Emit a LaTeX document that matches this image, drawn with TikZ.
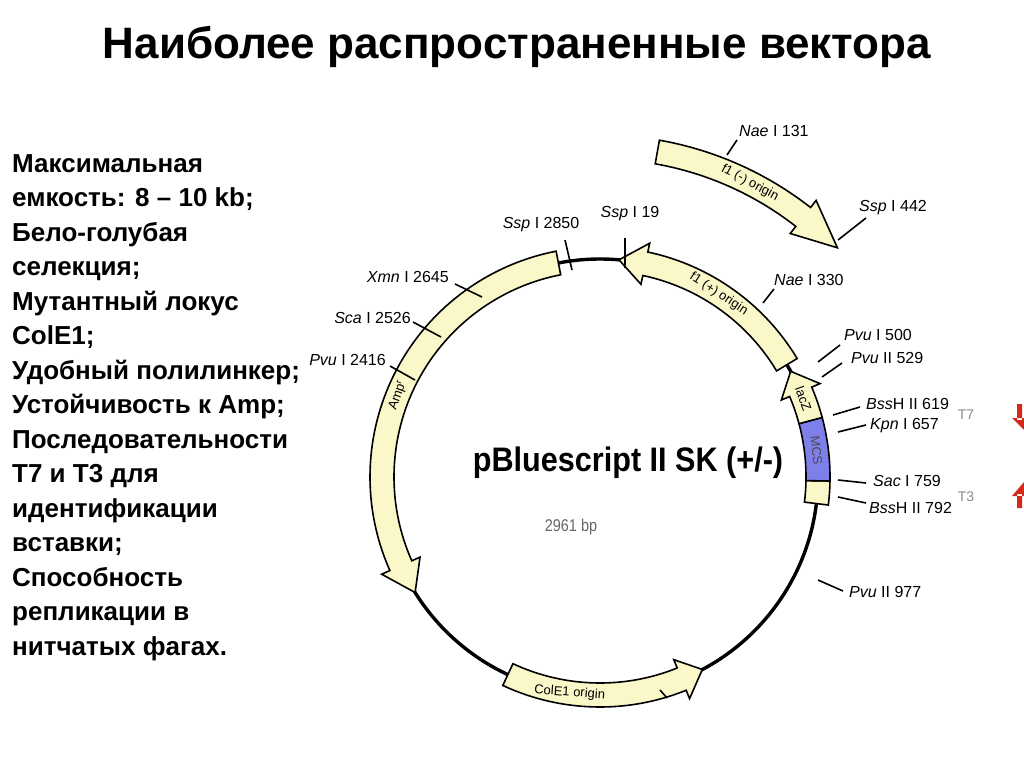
\documentclass[tikz,border=0pt]{standalone}
\usepackage{fontspec}
\setmainfont{Liberation Sans}
\usetikzlibrary{calc}
\definecolor{featfill}{HTML}{FAF8C8}
\definecolor{mcsblue}{HTML}{7F7FEA}
\definecolor{tred}{HTML}{D42A1A}
\newcommand\featarrow[5]{% start, tip, radius, head offset, name
\filldraw[feat] ($(C)+({#1}:{#3+12})$) arc[start angle={#1},end angle={#2-#4},radius={#3+12}]
 -- ($(C)+({#2-#4}:{#3+21})$) -- ($(C)+({#2}:{#3})$) -- ($(C)+({#2-#4}:{#3-21})$)
 -- ($(C)+({#2-#4}:{#3-12})$) arc[start angle={#2-#4},end angle={#1},radius={#3-12}] -- cycle;}
\newcommand\featbox[4]{%
\filldraw[feat,#4] ($(C)+({#1}:{#3+12})$) arc[start angle={#1},end angle={#2},radius={#3+12}]
 -- ($(C)+({#2}:{#3-12})$) arc[start angle={#2},end angle={#1},radius={#3-12}] -- cycle;}
\begin{document}
\begin{tikzpicture}[x=1pt,y=1pt,
  feat/.style={fill=featfill,draw=black,line width=1.6pt,line join=miter},
  site/.style={font=\fontsize{16}{17}\selectfont,inner sep=1pt},
  tick/.style={line width=1.6pt},
  lbl/.style={font=\fontsize{13}{14}\selectfont,inner sep=0pt},
  side/.style={font=\bfseries\fontsize{26}{34.5}\selectfont,align=left,anchor=north west,inner sep=0pt}]
\useasboundingbox (0,0) rectangle (1024,-767);
\fill[white] (0,0) rectangle (1024,-767);
\node[font=\bfseries\fontsize{44}{48}\selectfont] (title) at (517,-47) {Наиболее распространенные вектора};
\node[side] (txt) at (12,-154) {Максимальная\\емкость: 8 – 10 kb;\\Бело-голубая\\селекция;\\Мутантный локус\\ColE1;\\Удобный полилинкер;\\Устойчивость к Amp;\\Последовательности\\T7 и T3 для\\идентификации\\вставки;\\Способность\\репликации в\\нитчатых фагах.};
\coordinate (C) at (600,-477);
\draw[line width=3.4pt] (C) circle[radius=218];
% features
\featarrow{101}{212}{218}{8}{amp}
\featarrow{31}{85}{218}{7}{f1p}
\featbox{-7}{-1}{218}{}
\featbox{-1}{15}{218}{fill=mcsblue}
\featarrow{15}{29}{218}{6}{lacz}
\featarrow{245}{298}{218}{6}{cole}
\featarrow{80}{44}{330}{-8}{f1m}
% feature labels
\node[lbl,rotate=-33] (lf1p) at ($(C)+(57:218)$) {f1 (+) origin};
\node[lbl,rotate=-28] (lf1m) at ($(C)+(63:330)$) {f1 (-) origin};
\node[lbl,rotate=70] (lamp) at ($(C)+(158:218)$) {Amp\textsuperscript{r}};
\node[lbl,rotate=-70] (llac) at ($(C)+(21:218)$) {lacZ};
\node[lbl,rotate=-84,text=black!70] (lmcs) at ($(C)+(7:218)$) {MCS};
\node[lbl,rotate=-4] (lcol) at ($(C)+(262:218)$) {ColE1 origin};
% centre
\node[font=\bfseries\fontsize{34}{38}\selectfont,xscale=0.9] (name) at (628,-463) {pBluescript II SK (+/-)};
\node[font=\fontsize{17}{19}\selectfont,text=black!60,xscale=0.85] (bp) at (571,-527) {2961 bp};
% sites
\node[site,anchor=west] (s131) at (738,-131) {\textit{Nae} I 131};
\node[site,anchor=west] (s442) at (858,-208) {\textit{Ssp} I 442};
\node[site] (s2850) at (541,-225) {\textit{Ssp} I 2850};
\node[site] (s19) at (630,-214) {\textit{Ssp} I 19};
\node[site,anchor=east] (s2645) at (450,-277) {\textit{Xmn} I 2645};
\node[site,anchor=east] (s2526) at (412,-318) {\textit{Sca} I 2526};
\node[site,anchor=east] (s2416) at (387,-360) {\textit{Pvu} I 2416};
\node[site,anchor=west] (s330) at (773,-280) {\textit{Nae} I 330};
\node[site,anchor=west] (s500) at (843,-335) {\textit{Pvu} I 500};
\node[site,anchor=west] (s529) at (850,-358) {\textit{Pvu} II 529};
\node[site,anchor=west] (s619) at (865,-404) {\textit{Bss}H II 619};
\node[site,anchor=west] (s657) at (869,-426) {\textit{Kpn} I 657};
\node[site,anchor=west] (s759) at (872,-481) {\textit{Sac} I 759};
\node[site,anchor=west] (s792) at (868,-508) {\textit{Bss}H II 792};
\node[site,anchor=west] (s977) at (848,-592) {\textit{Pvu} II 977};
% ticks
\foreach \a/\b in {{572,-270}/{565,-240},{625,-268}/{625,-238},{482,-297}/{455,-284},{441,-337}/{413,-322},{415,-380}/{390,-366},{763,-303}/{774,-289},{818,-362}/{840,-345},{822,-377}/{842,-363},{833,-415}/{860,-407},{838,-432}/{866,-425},{838,-480}/{866,-483},{838,-497}/{866,-503},{818,-580}/{843,-591},{727,-155}/{737,-140},{838,-240}/{866,-218},{660,-690}/{667,-698}}
  \draw[tick] (\a) -- (\b);
% T7 / T3
\node[font=\fontsize{14}{15}\selectfont,text=black!45] (t7) at (966,-415) {T7};
\node[font=\fontsize{14}{15}\selectfont,text=black!45] (t3) at (966,-497) {T3};
\fill[tred] (1017,-404) rectangle (1022,-420) (1012,-418) -- (1024,-418) -- (1024,-430) -- cycle;
\fill[tred] (1017,-508) rectangle (1022,-494) (1012,-496) -- (1024,-496) -- (1024,-482) -- cycle;
\end{tikzpicture}
\end{document}
